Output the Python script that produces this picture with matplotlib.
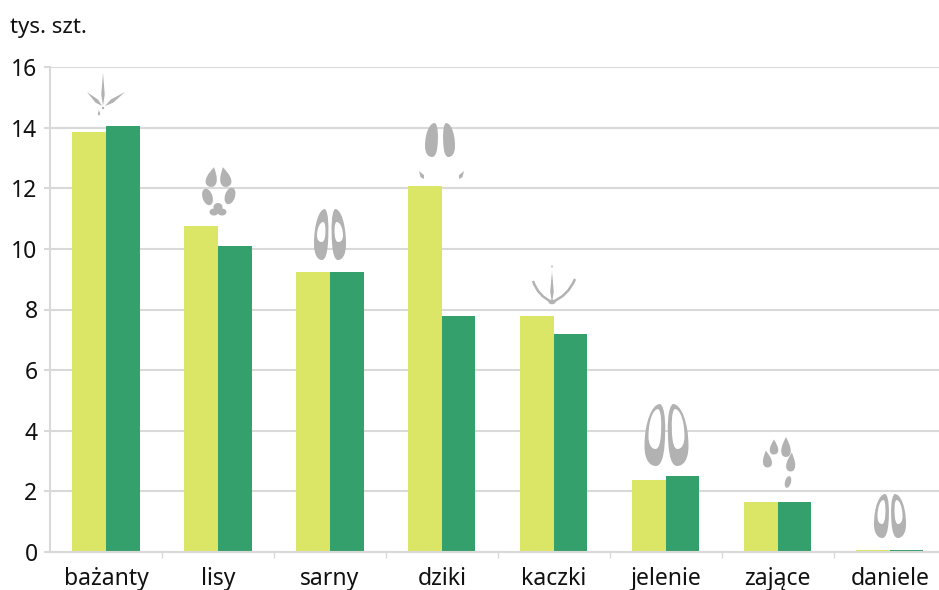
import matplotlib
matplotlib.use('Agg')
import matplotlib.pyplot as plt
from matplotlib.patches import Ellipse, PathPatch
from matplotlib.path import Path
from matplotlib.transforms import Affine2D

plt.rcParams['font.family'] = ['Noto Sans', 'DejaVu Sans']

categories = ['bażanty', 'lisy', 'sarny', 'dziki', 'kaczki', 'jelenie', 'zające', 'daniele']
series_a = [13.85, 10.76, 9.24, 12.08, 7.79, 2.38, 1.65, 0.08]
series_b = [14.05, 10.10, 9.24, 7.79, 7.20, 2.50, 1.65, 0.08]
y_ticks = [0, 2, 4, 6, 8, 10, 12, 14, 16]

LIGHT = '#DBE666'
DARK = '#34A06B'
GRID = '#D9D9D9'
TRACK = '#B2B2B2'
TEXT = '#111111'

W, H = 939, 590
fig = plt.figure(figsize=(W / 100, H / 100), dpi=100)
ax = fig.add_axes([50 / W, 1 - 552 / H, (W - 50) / W, (552 - 67) / H])

x = list(range(len(categories)))
bar_w = 0.3
ax.set_axisbelow(True)
ax.yaxis.grid(True, color=GRID, lw=1.5)
ax.bar([i - bar_w / 2 for i in x], series_a, bar_w, color=LIGHT)
ax.bar([i + bar_w / 2 for i in x], series_b, bar_w, color=DARK)

ax.set_xlim(-0.5, 7.44)
ax.set_ylim(0, 16)
ax.set_yticks(y_ticks)
ax.set_xticks([i + 0.5 for i in x[:-1]])
ax.set_xticklabels([])
ax.set_xticks(x, minor=True)
ax.set_xticklabels(categories, minor=True)
ax.tick_params(axis='x', which='major', length=4.5, width=1, color=GRID)
ax.tick_params(axis='x', which='minor', length=0, labelsize=16.5, pad=11, labelcolor=TEXT)
ax.tick_params(axis='y', length=4, width=1.5, color=GRID, labelsize=16.5, pad=5, labelcolor=TEXT)
for s in ['top', 'right']:
    ax.spines[s].set_visible(False)
for s in ['left', 'bottom']:
    ax.spines[s].set_color(GRID)
    ax.spines[s].set_linewidth(1.5)

fig.text(10 / W, 1 - 27 / H, 'tys. szt.', fontsize=16, color=TEXT, va='center')

# tropy zwierzat - rysowane w pikselach obrazka
px = Affine2D().scale(1, -1).translate(0, H)


def add_path(verts, codes, fc=TRACK, ec='none', lw=0):
    p = PathPatch(Path(verts, codes), facecolor=fc, edgecolor=ec, lw=lw, transform=px, clip_on=False, zorder=5)
    fig.add_artist(p)


def drop(cx, cy, w, h, angle=0):
    # kropla z ostrym czubkiem u gory
    t = Affine2D().scale(w / 2, h / 2).rotate_deg(angle).translate(cx, cy)
    v = [(0, -1), (0.45, -0.55), (1, -0.1), (1, 0.4), (1, 0.85), (0.5, 1), (0, 1),
         (-0.5, 1), (-1, 0.85), (-1, 0.4), (-1, -0.1), (-0.45, -0.55), (0, -1), (0, -1)]
    c = [Path.MOVETO] + [Path.CURVE4] * 12 + [Path.CLOSEPOLY]
    add_path(t.transform(v), c)


def lobe(x0, x1, y0, y1, fc=TRACK):
    # racica: x0 to strona wewnetrzna, x1 zewnetrzna
    def P(a, b):
        return (x0 + (x1 - x0) * a, y0 + (y1 - y0) * b)
    v = [P(0.25, 0), P(0.65, 0), P(1, 0.3), P(1, 0.68), P(1, 0.9), P(0.75, 1), P(0.45, 1),
         P(0.2, 1), P(0.08, 0.85), P(0.04, 0.68), P(-0.03, 0.4), P(-0.02, 0.05), P(0.25, 0), P(0.25, 0)]
    c = [Path.MOVETO] + [Path.CURVE4] * 12 + [Path.CLOSEPOLY]
    add_path(v, c, fc=fc)


def hoof(cx, top, bottom, half, gap, in_top, in_bot, in_pad):
    lobe(cx - gap, cx - half, top, bottom)
    lobe(cx + gap, cx + half, top, bottom)
    lobe(cx - gap - in_pad, cx - half + in_pad, in_top, in_bot, fc='white')
    lobe(cx + gap + in_pad, cx + half - in_pad, in_top, in_bot, fc='white')


def toe(x0, y0, x1, y1, w):
    # cienki palec: klin od nasady do czubka
    dx, dy = x1 - x0, y1 - y0
    n = (dx * dx + dy * dy) ** 0.5
    ux, uy = -dy / n * w / 2, dx / n * w / 2
    mx, my = x0 + dx * 0.35, y0 + dy * 0.35
    v = [(x0, y0), (mx + ux, my + uy), (x1, y1), (mx - ux, my - uy), (x0, y0)]
    c = [Path.MOVETO, Path.LINETO, Path.LINETO, Path.LINETO, Path.CLOSEPOLY]
    add_path(v, c)


def ell(cx, cy, w, h, angle=0):
    e = Ellipse((cx, cy), w, h, angle=angle, facecolor=TRACK, edgecolor='none', transform=px, clip_on=False, zorder=5)
    fig.add_artist(e)


# bazant
toe(103, 106, 103, 73, 3.5)
toe(102, 106, 87, 92, 4)
toe(105, 106, 125, 92, 4)
toe(99, 116, 99, 110, 2.5)
ell(103, 108, 2.5, 2.5)

# lis
drop(212, 177, 11, 20, 12)
drop(225, 177, 11, 20, -12)
ell(207.5, 197, 10, 17, -18)
ell(230, 196, 10, 17, 18)
ell(218, 207, 9, 8)
ell(214, 212, 9, 7)
ell(222, 212, 9, 7)

# sarna
hoof(330, 209, 260, 16, 1.5, 222, 242, 3)

# dzik
lobe(438, 425, 123, 157)
lobe(443, 455, 123, 157)
toe(424, 179, 419, 171, 4)
toe(459, 179, 464, 171, 4)

# kaczka
curve = [Path.MOVETO, Path.CURVE3, Path.CURVE3]
add_path([(552, 302), (538, 296), (533, 281)], curve, fc='none', ec=TRACK, lw=1.8)
add_path([(552, 302), (568, 296), (575, 279)], curve, fc='none', ec=TRACK, lw=1.8)
toe(552, 303, 552, 271, 3.5)
ell(552, 302, 7, 4.5)
ell(552, 266.5, 1.2, 3)

# jelen
hoof(666.5, 404, 466, 22, 1.2, 409, 449, 4)

# zajac
drop(767, 459, 9, 17, -8)
drop(774, 447, 8.5, 15)
drop(786, 447, 9.5, 20)
drop(791, 462, 9, 19, 5)
ell(788, 482, 6, 12, 15)

# daniel
hoof(890, 494, 538, 16, 1, 500, 524, 3.5)

fig.savefig('out.png', dpi=100)
